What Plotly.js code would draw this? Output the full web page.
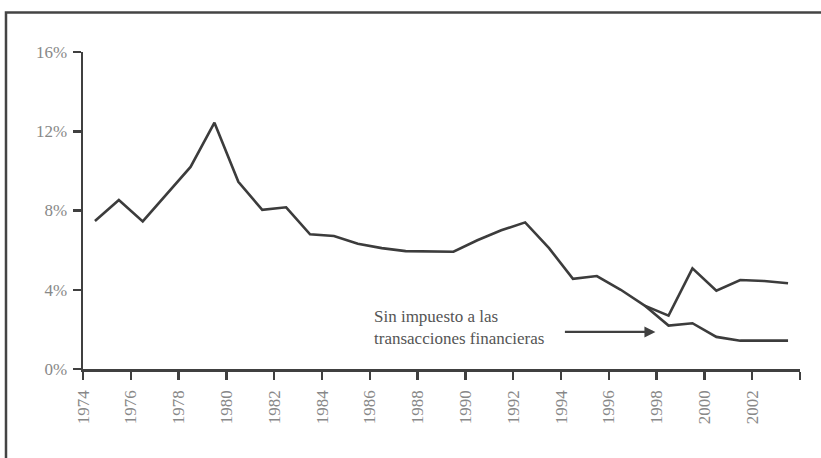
<!DOCTYPE html>
<html>
<head>
<meta charset="utf-8">
<script src="https://cdn.plot.ly/plotly-3.0.1.min.js"></script>
<style>
  html, body { margin: 0; padding: 0; background: #ffffff; }
  #chart { width: 821px; height: 458px; }
</style>
</head>
<body>
<div id="chart"></div>
<script>
// ---- data ----
var years = [1974, 1975, 1976, 1977, 1978, 1979, 1980, 1981, 1982, 1983,
             1984, 1985, 1986, 1987, 1988, 1989, 1990, 1991, 1992, 1993,
             1994, 1995, 1996, 1997, 1998, 1999, 2000, 2001, 2002, 2003];
var conImpuesto = [7.47, 8.53, 7.45, 8.8, 10.2, 12.43, 9.45, 8.03, 8.16, 6.8,
                   6.71, 6.32, 6.1, 5.95, 5.92, 5.92, 6.5, 7.0, 7.4, 6.1,
                   4.55, 4.69, 4.0, 3.2, 2.69, 5.08, 3.95, 4.49, 4.44, 4.33];
var sinYears = [1997, 1998, 1999, 2000, 2001, 2002, 2003];
var sinImpuesto = [3.2, 2.19, 2.31, 1.62, 1.43, 1.43, 1.43];

var xTickYears = [1974, 1976, 1978, 1980, 1982, 1984, 1986, 1988, 1990,
                  1992, 1994, 1996, 1998, 2000, 2002, 2004];
var xTickLabels = ['1974', '1976', '1978', '1980', '1982', '1984', '1986', '1988',
                   '1990', '1992', '1994', '1996', '1998', '2000', '2002', ''];
var yTickVals = [0, 4, 8, 12, 16];
var yTickLabels = ['0%', '4%', '8%', '12%', '16%'];

var annotText = 'Sin impuesto a las<br>transacciones financieras';

// ---- chart ----
var lineColor = '#3c3c3c';
var axisColor = '#404040';

var traces = [
  { x: years, y: conImpuesto, type: 'scatter', mode: 'lines',
    line: { color: lineColor, width: 2.6 }, hoverinfo: 'skip' },
  { x: sinYears, y: sinImpuesto, type: 'scatter', mode: 'lines',
    line: { color: lineColor, width: 2.6 }, hoverinfo: 'skip' }
];

var layout = {
  width: 821, height: 458,
  margin: { l: 83, r: 21, t: 52, b: 89, pad: 0 },
  paper_bgcolor: '#ffffff', plot_bgcolor: '#ffffff',
  showlegend: false,
  xaxis: {
    range: [1973.5, 2003.5],
    tickmode: 'array',
    tickvals: xTickYears.map(function (y) { return y - 0.5; }),
    ticktext: xTickLabels,
    tickangle: -90,
    ticks: 'outside', ticklen: 8, tickwidth: 2.5, tickcolor: axisColor,
    ticklabelstandoff: 4,
    showline: true, linecolor: axisColor, linewidth: 2.5,
    showgrid: false, zeroline: false,
    tickfont: { family: 'Liberation Serif', size: 17, color: '#888888' }
  },
  yaxis: {
    range: [0, 16],
    tickmode: 'array',
    tickvals: yTickVals,
    ticktext: yTickLabels,
    ticks: 'outside', ticklen: 8, tickwidth: 2.5, tickcolor: axisColor,
    ticklabelstandoff: 2,
    showline: true, linecolor: axisColor, linewidth: 2.5,
    showgrid: false, zeroline: false,
    tickfont: { family: 'Liberation Serif', size: 17, color: '#888888' }
  },
  shapes: [
    { type: 'rect', xref: 'paper', yref: 'paper',
      x0: -0.1074, x1: 1.2, y0: -0.5, y1: 1.1246,
      line: { color: '#444444', width: 2.5 }, fillcolor: 'rgba(0,0,0,0)' }
  ],
  annotations: [
    { x: 1985.59, y: 2.09, xref: 'x', yref: 'y',
      text: annotText, showarrow: false,
      xanchor: 'left', yanchor: 'middle', align: 'left',
      font: { family: 'Liberation Serif', size: 17, color: '#555555' } },
    { x: 1997.45, y: 1.87, xref: 'x', yref: 'y',
      ax: -92, ay: 0, axref: 'pixel', ayref: 'pixel',
      text: '', showarrow: true,
      arrowhead: 2, arrowsize: 1, arrowwidth: 2.2, arrowcolor: axisColor,
      standoff: 0, startstandoff: 0 }
  ]
};

Plotly.newPlot('chart', traces, layout, { displayModeBar: false, staticPlot: true });
</script>
</body>
</html>
